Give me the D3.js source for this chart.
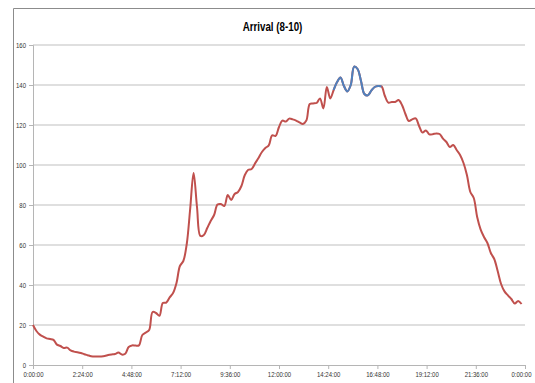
<!DOCTYPE html>
<html>
<head>
<meta charset="utf-8">
<script src="https://cdn.jsdelivr.net/npm/d3@7"></script>
<style>
  html, body { margin: 0; padding: 0; background: #fff; }
  svg { display: block; }
</style>
</head>
<body>
<svg id="chart" width="535" height="383"></svg>
<script>
// Arrivals per 10-minute slot over one day (slot 0 = 0:00, slot 143 = 23:50)
const slotMinutes = 10;
const arrivals = [
  20, 17, 15.2, 14.2, 13.3, 13, 12.6, 10.2, 9.5, 8.5,
  8.7, 7.3, 6.7, 6.4, 6, 5.4, 4.9, 4.4, 4.2, 4.3,
  4.3, 4.5, 5, 5.3, 5.5, 6.2, 5.2, 5.6, 9, 9.8,
  9.7, 9.8, 15, 16.2, 17.5, 26.5, 26, 24.6, 31, 31.2,
  33.8, 36, 41, 49.5, 52, 60.5, 78, 96, 79, 64.5,
  65, 68.5, 72, 75, 80.2, 80.5, 79.5, 85, 82.5, 85.5,
  86.5, 89.5, 95, 97.6, 98, 100.8, 103.5, 106.5, 108.5, 109.8,
  114.8, 114.5, 119, 122.2, 121.7, 123.2, 122.8, 122.2, 121.3, 120.5,
  122.2, 130.5, 130.8, 131, 133.3, 128.3, 139, 133.3, 137.5, 141.5,
  143.8, 139.5, 136.8, 140, 149.2, 148, 142, 135.5, 134.8, 137.2,
  139, 139.5, 139.3, 134.5, 131.2, 131.5, 131.5, 132.5, 130, 125.5,
  122, 122.8, 123.3, 119.5, 116.2, 117.3, 115.3, 115.4, 115.8, 115.5,
  113.2, 111.5, 109, 110, 107.5, 105, 101, 95, 86.5, 83.5,
  74, 67.8, 64, 61, 56, 53, 47, 40.5, 36.8, 34.8,
  33, 30.8, 32, 30.5
];

// Peak window (14:40 - 17:00), drawn as its own series on top
const peakStartSlot = 88;
const peakArrivals = [
  137.5, 141.5, 143.8, 139.5, 136.8, 140, 149.2, 148, 142, 135.5,
  134.8, 137.2, 139, 139.5, 139.3
];

const yTicks = [0, 20, 40, 60, 80, 100, 120, 140, 160];
// x ticks every 0.1 day (144 minutes), labelled as h:mm:ss
const xTickMinutes = d3.range(0, 1441, 144);
const xTickLabels = ["0:00:00", "2:24:00", "4:48:00", "7:12:00", "9:36:00",
  "12:00:00", "14:24:00", "16:48:00", "19:12:00", "21:36:00", "0:00:00"];

const title = "Arrival (8-10)";

const svg = d3.select("#chart");
const W = 535, H = 383;
const plot = { left: 33, right: 525, top: 45, bottom: 365 };

const x = d3.scaleLinear().domain([0, 1440]).range([plot.left, plot.right]);
const y = d3.scaleLinear().domain([0, 160]).range([plot.bottom, plot.top]);

const font = "'Liberation Sans Narrow', 'Arial Narrow', 'Liberation Sans', Arial, sans-serif";

// squeeze text horizontally to a narrow face while keeping it as text
function narrow(sel, factor) {
  sel.each(function () {
    const w = this.getComputedTextLength();
    this.setAttribute("textLength", (w * factor).toFixed(2));
    this.setAttribute("lengthAdjust", "spacingAndGlyphs");
  });
}

// chart area border: only its top and left edges fall inside the window
svg.append("path")
  .attr("d", `M13.5,${H}V8.5H${W}`)
  .attr("fill", "none")
  .attr("stroke", "#8c8c8c").attr("stroke-width", 1);

// title
svg.append("text")
  .attr("x", 272.5).attr("y", 31)
  .attr("text-anchor", "middle")
  .attr("font-family", font)
  .attr("font-weight", "bold")
  .attr("font-size", 12.5)
  .attr("fill", "#000")
  .text(title)
  .call(narrow, 0.78);

// horizontal gridlines
svg.append("g")
  .selectAll("line")
  .data(yTicks.filter(d => d > 0))
  .join("line")
  .attr("x1", plot.left).attr("x2", plot.right)
  .attr("y1", d => y(d)).attr("y2", d => y(d))
  .attr("stroke", "#d4d4d4").attr("stroke-width", 1.3);

// y axis
const yAxis = d3.axisLeft(y).tickValues(yTicks).tickSize(4).tickPadding(3)
  .tickFormat(d3.format("d"));
svg.append("g")
  .attr("transform", `translate(${plot.left},0)`)
  .call(yAxis)
  .call(g => g.select(".domain").attr("stroke", "#b5b5b5"))
  .call(g => g.selectAll(".tick line").attr("stroke", "#b5b5b5"))
  .call(g => g.selectAll("text")
    .attr("font-family", font).attr("font-size", 7.5).attr("fill", "#333")
    .call(narrow, 0.8));

// x axis
const xAxis = d3.axisBottom(x).tickValues(xTickMinutes).tickSize(4).tickPadding(3)
  .tickFormat((d, i) => xTickLabels[i]);
svg.append("g")
  .attr("transform", `translate(0,${plot.bottom})`)
  .call(xAxis)
  .call(g => g.select(".domain").attr("stroke", "#b5b5b5"))
  .call(g => g.selectAll(".tick line").attr("stroke", "#b5b5b5"))
  .call(g => g.selectAll("text")
    .attr("font-family", font).attr("font-size", 7.5).attr("fill", "#333"))
  .call(g => g.selectAll("text").call(narrow, 0.8))
  // the last label is nudged left so it stays inside the window
  .call(g => g.selectAll(".tick:last-of-type text").attr("dx", -4));

// smoothed series lines
const line = d3.line()
  .x(d => x(d.t))
  .y(d => y(d.v))
  .curve(d3.curveCatmullRom.alpha(0.5));

const mainSeries = arrivals.map((v, i) => ({ t: i * slotMinutes, v }));
const peakSeries = peakArrivals.map((v, i) => ({ t: (peakStartSlot + i) * slotMinutes, v }));

svg.append("path")
  .datum(mainSeries)
  .attr("fill", "none")
  .attr("stroke", "#C0504D")
  .attr("stroke-width", 2)
  .attr("stroke-linejoin", "round")
  .attr("d", line);

svg.append("path")
  .datum(peakSeries)
  .attr("fill", "none")
  .attr("stroke", "#4F81BD")
  .attr("stroke-width", 2)
  .attr("stroke-linejoin", "round")
  .attr("d", line);
</script>
</body>
</html>
